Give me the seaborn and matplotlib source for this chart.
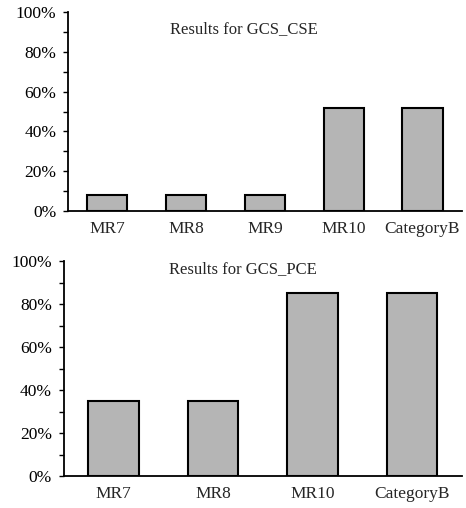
import matplotlib
matplotlib.use("Agg")
import matplotlib.pyplot as plt
import seaborn as sns
import pandas as pd
from matplotlib.ticker import PercentFormatter, MultipleLocator

# data
cse_labels = ["MR7", "MR8", "MR9", "MR10", "CategoryB"]
cse_values = [8, 8, 8, 52, 52]
pce_labels = ["MR7", "MR8", "MR10", "CategoryB"]
pce_values = [35, 35, 85, 85]

sns.set_style("white")
plt.rcParams['font.family'] = ['Liberation Serif', 'DejaVu Serif']

fig = plt.figure(figsize=(4.66, 5.08), dpi=100)
ax1 = fig.add_axes([0.146, 0.585, 0.845, 0.391])
ax2 = fig.add_axes([0.137, 0.063, 0.854, 0.423])


def draw(ax, labels, values, title, tx, ty, width):
    df = pd.DataFrame({"cat": labels, "val": values})
    sns.barplot(data=df, x="cat", y="val", ax=ax, color="#b5b5b5",
                edgecolor="black", linewidth=1.5, width=width, saturation=1)
    ax.set_ylim(0, 100)
    ax.set_xlim(-0.5, len(labels) - 0.5)
    ax.yaxis.set_major_locator(MultipleLocator(20))
    ax.yaxis.set_minor_locator(MultipleLocator(10))
    ax.yaxis.set_major_formatter(PercentFormatter(decimals=0))
    ax.tick_params(axis="y", which="both", direction="out", length=3.5, width=1,
                   left=True, labelsize=12.5, colors="black", pad=5)
    ax.tick_params(axis="x", length=0, labelsize=12.5, pad=7)
    ax.set_xlabel("")
    ax.set_ylabel("")
    for s in ["top", "right"]:
        ax.spines[s].set_visible(False)
    for s in ["left", "bottom"]:
        ax.spines[s].set_color("black")
        ax.spines[s].set_linewidth(1.3)
    ax.text(tx, ty, title, transform=ax.transAxes, ha="center", va="center",
            fontsize=12)


draw(ax1, cse_labels, cse_values, "Results for GCS_CSE", 0.447, 0.915, 0.51)
draw(ax2, pce_labels, pce_values, "Results for GCS_PCE", 0.451, 0.965, 0.51)

fig.savefig("out.png", dpi=100)
